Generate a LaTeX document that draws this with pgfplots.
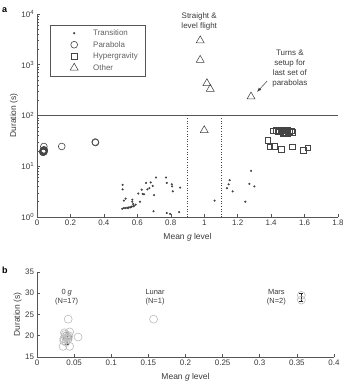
\documentclass[border=0pt]{standalone}
\usepackage{fontspec}
\setmainfont{Liberation Sans}
\usepackage{pgfplots}
\pgfplotsset{compat=1.18}
\definecolor{txt}{HTML}{3A3A3A}
\definecolor{mk}{HTML}{444444}
\definecolor{lg}{HTML}{BBBBBB}
\definecolor{ax}{HTML}{555555}
\pgfplotsset{
  common/.style={
    scale only axis,
    axis x line*=bottom, axis y line*=left,
    tick align=inside,
    major tick length=3bp, minor tick length=1.6bp,
    every axis/.append style={line width=0.5pt},
    axis line style={ax},
    every tick/.style={ax},
    tick label style={font=\fontsize{8}{10}\selectfont, text=txt},
    label style={font=\fontsize{8.5}{10}\selectfont, text=txt},
    /pgf/number format/assume math mode=true,
    clip=false,
  },
  lgimg/.style={legend image code/.code={\path[draw=none,fill=none] (-19bp,0bp) rectangle (17bp,0bp); \draw[##1] plot coordinates {(0bp,0bp)};}},
}
\begin{document}
\fontsize{8}{10}\selectfont
\begin{tikzpicture}[x=1bp,y=1bp]
\useasboundingbox (0,0) rectangle (343,383);
\node[font=\bfseries\fontsize{9}{10}\selectfont, anchor=north west, inner sep=0] at (2,376) {a};
\node[font=\bfseries\fontsize{9}{10}\selectfont, anchor=north west, inner sep=0] at (2,116) {b};
% ---------------- Panel a
\begin{axis}[common,
  at={(37bp,166bp)}, anchor=south west,
  width=301bp, height=203bp,
  xmin=0, xmax=1.8, ymode=log, ymin=1, ymax=10000,
  xtick={0,0.2,0.4,0.6,0.8,1,1.2,1.4,1.6,1.8},
  xticklabels={0,0.2,0.4,0.6,0.8,1,1.2,1.4,1.6,1.8},
  ytick={1,10,100,1000,10000},
  yticklabels={10\textsuperscript{0},10\textsuperscript{1},10\textsuperscript{2},10\textsuperscript{3},10\textsuperscript{4}},
  xlabel={Mean \textit{g} level}, ylabel={Duration (s)},
  xlabel style={yshift=-2bp}, ylabel style={yshift=-2bp},
  legend style={at={(0.043,0.946)}, anchor=north west, draw=ax, line width=0.5pt,
    font=\fontsize{8}{10}\selectfont, text=txt!80, row sep=0.6bp, inner xsep=5bp, inner ysep=2.5bp},
  legend cell align=left,
]
\addplot[only marks, mark=*, mark size=0.8pt, mk, lgimg] coordinates {
(0.512,4.3)(0.512,3.5)(0.52,2.1)(0.53,2.3)(0.57,2.2)(0.57,2.0)
(0.51,1.45)(0.52,1.5)(0.53,1.5)(0.54,1.52)(0.55,1.55)(0.56,1.55)(0.565,1.6)(0.575,1.62)(0.58,1.65)(0.59,1.75)(0.575,1.8)(0.545,1.5)
(0.606,2.9)(0.616,2.0)(0.626,3.45)(0.632,2.85)(0.64,2.8)(0.652,4.7)(0.66,3.5)(0.672,3.7)(0.68,4.8)(0.692,4.1)(0.70,2.7)(0.697,1.3)
(0.712,6.0)(0.772,6.0)(0.776,4.7)(0.776,1.2)(0.796,1.15)(0.806,4.4)(0.808,4.0)(0.812,3.2)(0.856,3.8)(0.85,1.25)
(1.062,2.1)(1.136,3.7)(1.146,4.4)(1.152,5.3)(1.17,3.2)(1.246,2.0)(1.27,4.5)(1.28,8.1)(1.30,4.0)
};
\addlegendentry{Transition}
\addplot[only marks, mark=o, mark size=3.4bp, mk, line width=0.6pt, lgimg] coordinates {
(0.036,20)(0.038,19.5)(0.040,20.5)(0.042,19.7)(0.035,19)(0.044,20.9)(0.040,21)(0.038,20.3)(0.042,19.2)(0.036,18.8)(0.041,24.5)
(0.148,24.5)(0.348,30)(0.350,29.3)
};
\addlegendentry{Parabola}
\addplot[only marks, mark=square, mark size=2.8bp, mk, line width=0.55pt, lgimg] coordinates {
(1.41,50)(1.43,51)(1.45,48)(1.46,52)(1.47,47)(1.48,50)(1.49,46)(1.50,52)(1.51,48)(1.52,50)(1.53,47)(1.47,45)(1.50,45)(1.44,49)
(1.38,32.6)(1.392,24)(1.42,24.5)(1.462,21.4)(1.526,24)(1.592,20.7)(1.62,23)
};
\addlegendentry{Hypergravity}
\addplot[only marks, mark=triangle, mark size=4.6bp, mk, line width=0.55pt, lgimg] coordinates {
(0.976,3000)(0.976,1240)(1.016,430)(1.036,333)(1.28,235)(1.0,51)
};
\addlegendentry{Other}
\addplot[ax, line width=0.6pt, forget plot] coordinates {(0,100)(1.8,100)};
\addplot[mk, dotted, line width=0.6pt, forget plot] coordinates {(0.9,1)(0.9,100)};
\addplot[mk, dotted, line width=0.6pt, forget plot] coordinates {(1.1,1)(1.1,100)};
\node[align=center, text=txt, font=\fontsize{8}{10}\selectfont] at (axis cs:0.97,7000) {Straight \&\\level flight};
\node[align=center, text=txt, font=\fontsize{8}{10}\selectfont] at (axis cs:1.512,850) {Turns \&\\setup for\\last set of\\parabolas};
\draw[-{latex}, txt, line width=0.5pt] (axis cs:1.376,475) -- (axis cs:1.316,292);
\end{axis}
% ---------------- Panel b
\begin{axis}[common,
  at={(37bp,26bp)}, anchor=south west,
  width=297bp, height=85bp,
  xmin=0, xmax=0.4, ymin=15, ymax=35,
  xtick={0,0.05,0.1,0.15,0.2,0.25,0.3,0.35,0.4},
  xticklabels={0,0.05,0.1,0.15,0.2,0.25,0.3,0.35,0.4},
  ytick={15,20,25,30,35},
  xlabel={Mean \textit{g} level}, ylabel={Duration (s)},
  xlabel style={yshift=-2bp}, ylabel style={yshift=-2bp},
]
\addplot[only marks, mark=o, mark size=4bp, lg, line width=0.6pt] coordinates {
(0.0418,19.7)(0.040,19.5)(0.038,20.3)(0.036,19.3)(0.039,18.5)(0.043,20)(0.041,19.0)(0.037,20.7)(0.044,20.9)
(0.042,23.9)(0.0553,19.7)(0.035,17.5)(0.044,17.5)(0.040,20.0)(0.038,19.8)(0.042,19.2)(0.036,18.8)
(0.157,23.9)(0.356,29.5)(0.356,28.4)
};
\addplot[draw=none, mark=none, error bars/.cd, x dir=both, x explicit, y dir=both, y explicit,
  error bar style={black!85, line width=0.6pt}, error mark options={rotate=90, mark size=2bp, black!85, line width=0.6pt}]
  coordinates {(0.041,19.4) +- (0.0055,1.5)};
\addplot[draw=none, mark=none, error bars/.cd, y dir=both, y explicit,
  error bar style={black!85, line width=0.6pt}, error mark options={rotate=90, mark size=2bp, black!85, line width=0.6pt}]
  coordinates {(0.356,29.0) +- (0,0.9)};
\node[align=center, text=txt, font=\fontsize{7.5}{9}\selectfont] at (axis cs:0.04,29) {0 \textit{g}\\(N=17)};
\node[align=center, text=txt, font=\fontsize{7.5}{9}\selectfont] at (axis cs:0.159,29) {Lunar\\(N=1)};
\node[align=center, text=txt, font=\fontsize{7.5}{9}\selectfont] at (axis cs:0.3224,29) {Mars\\(N=2)};
\end{axis}
\end{tikzpicture}
\end{document}
